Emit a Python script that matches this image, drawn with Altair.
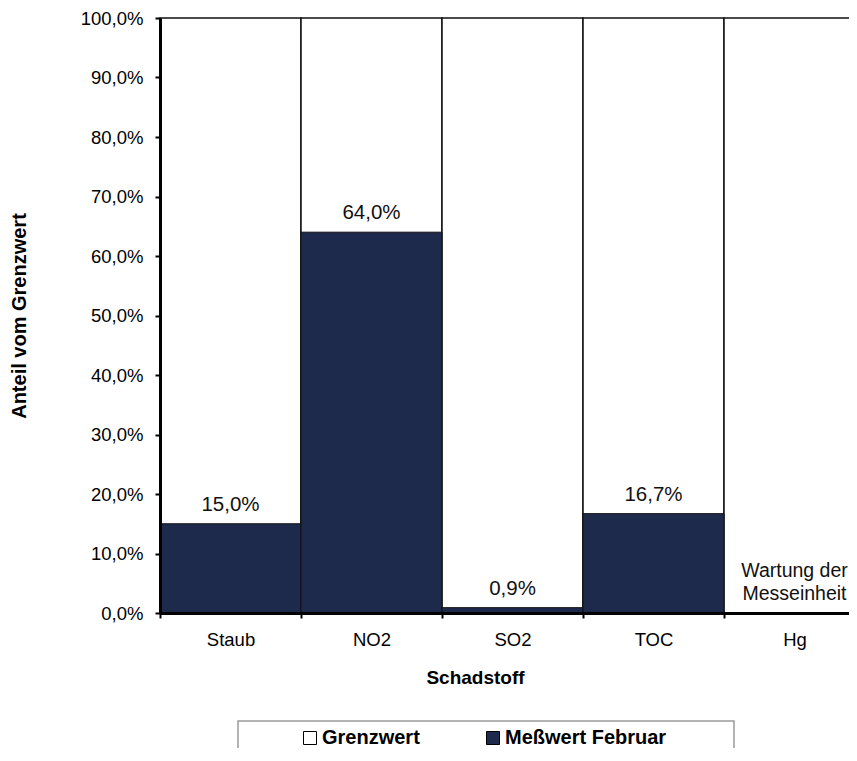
import altair as alt
import pandas as pd

categories = ["Staub", "NO2", "SO2", "TOC", "Hg"]
grenzwert = [100, 100, 100, 100, 100]
messwert = [15.0, 64.0, 0.9, 16.7, None]
value_labels = ["15,0%", "64,0%", "0,9%", "16,7%", "Wartung der\nMesseinheit"]
series_names = ["Grenzwert", "Meßwert Februar"]
y_ticks = [0, 10, 20, 30, 40, 50, 60, 70, 80, 90, 100]

FONT = "Liberation Sans"
NAVY = "#1d2a4c"

gdf = pd.DataFrame({"Schadstoff": categories, "Wert": grenzwert, "Reihe": series_names[0]})
mdf = pd.DataFrame({"Schadstoff": categories, "Wert": messwert, "Reihe": series_names[1]}).dropna()
ldf = pd.DataFrame({
    "Schadstoff": categories,
    "Wert": [v if v is not None else 0 for v in messwert],
    "Label": value_labels,
    "Mehrzeilig": ["\n" in s for s in value_labels],
})

x = alt.X(
    "Schadstoff:N",
    sort=categories,
    scale=alt.Scale(paddingInner=0, paddingOuter=0),
    axis=alt.Axis(
        title="Schadstoff",
        labelAngle=0,
        tickBand="extent",
        labelPadding=12,
        titlePadding=20,
        titleX=315,
        titleAlign="center",
        zindex=1,
    ),
)
y = alt.Y(
    "Wert:Q",
    scale=alt.Scale(domain=[0, 100], nice=False),
    axis=alt.Axis(
        title="Anteil vom Grenzwert",
        values=y_ticks,
        labelExpr="replace(format(datum.value, '.1f'), '.', ',') + '%'",
        grid=False,
        labelPadding=12,
        titlePadding=51,
        zindex=1,
    ),
)
fill = alt.Fill(
    "Reihe:N",
    scale=alt.Scale(domain=series_names, range=["#ffffff", NAVY]),
    legend=alt.Legend(
        title=None,
        orient="none",
        legendX=78,
        legendY=703,
        direction="horizontal",
        padding=7,
        symbolType="square",
        symbolSize=169,
        symbolStrokeColor="#000000",
        symbolStrokeWidth=1,
        symbolOffset=55,
        labelOffset=2,
        columnPadding=8,
        labelFont=FONT,
        labelFontSize=20,
        labelFontWeight="bold",
        labelColor="#000000",
        labelLimit=500,
        labelExpr="indexof(datum.label, 'Februar') >= 0 ? datum.label + '\u2800\u2800\u2800\u2800' : datum.label",
        strokeColor="#9a9a9a",
    ),
)

base_bars = alt.Chart(gdf).mark_bar(stroke="#111111", strokeWidth=1.5).encode(x=x, y=y, fill=fill)
meas_bars = alt.Chart(mdf).mark_bar(stroke="#111111", strokeWidth=1).encode(x=x, y=y, fill=fill)
labels = alt.Chart(ldf).transform_filter("!datum.Mehrzeilig").mark_text(
    font=FONT, fontSize=20.5, baseline="bottom", dy=-9, color="#111111"
).encode(x=x, y=y, text="Label:N")
note = alt.Chart(ldf).transform_filter("datum.Mehrzeilig").mark_text(
    font=FONT, fontSize=19.5, baseline="bottom", dy=-32, lineBreak="\n", lineHeight=23, color="#111111"
).encode(x=x, y=y, text="Label:N")

chart = (
    alt.layer(base_bars, meas_bars, labels, note)
    .properties(
        width=705,
        height=595,
        autosize=alt.AutoSizeParams(type="none"),
        padding={"left": 152, "top": 10, "right": -16, "bottom": 135},
    )
    .configure_view(strokeWidth=0)
    .configure_axis(
        domainColor="#000000",
        domainWidth=3,
        tickColor="#000000",
        tickWidth=2,
        tickSize=5,
        labelFont=FONT,
        labelFontSize=18.5,
        labelColor="#000000",
        titleFont=FONT,
        titleFontSize=19,
        titleFontWeight="bold",
        titleColor="#000000",
    )
    .configure_axisY(titleFontSize=20)
    .configure_legend(strokeWidth=1.5)
)

chart.save("out.html", embed_options={"renderer": "svg", "actions": False})
